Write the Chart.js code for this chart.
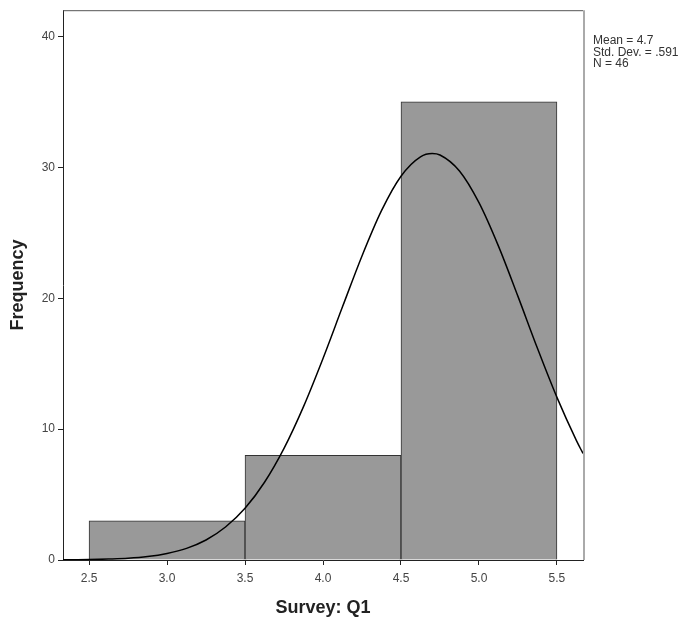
<!DOCTYPE html>
<html>
<head>
<meta charset="utf-8">
<script src="https://cdn.jsdelivr.net/npm/chart.js@4/dist/chart.umd.min.js"></script>
<style>
  html, body { margin: 0; padding: 0; background: #fff; }
  #wrap { width: 693px; height: 627px; }
</style>
</head>
<body>
<div id="wrap"><canvas id="chart"></canvas></div>
<script>
// histogram bins (Survey: Q1)
const binEdges = [2.5, 3.5, 4.5, 5.5];
const binCenters = [3.0, 4.0, 5.0];
const frequencies = [3, 8, 35];

// normal curve
const curveX = [2.333, 2.375, 2.5, 2.625, 2.75, 2.875, 3.0, 3.125, 3.25, 3.375, 3.5, 3.625, 3.75, 3.875,
  4.0, 4.125, 4.25, 4.375, 4.5, 4.625, 4.7, 4.75, 4.875, 5.0, 5.125, 5.25, 5.375, 5.5, 5.625, 5.667];
const curveY = [0.01, 0.01, 0.03, 0.07, 0.13, 0.26, 0.5, 0.89, 1.53, 2.52, 3.95, 5.94, 8.53, 11.72,
  15.4, 19.34, 23.23, 26.69, 29.32, 30.8, 31.05, 30.94, 29.72, 27.3, 23.98, 20.14, 16.17, 12.42, 9.12, 8.14];

// axes
const xTicks = [2.5, 3.0, 3.5, 4.0, 4.5, 5.0, 5.5];
const yTicks = [0, 10, 20, 30, 40];
const xRange = [2.333, 5.667];
const yRange = [0, 42];

const statsLines = ["Mean = 4.7", "Std. Dev. = .591", "N = 46"];

const FONT = "'Liberation Sans', Arial, sans-serif";

// top/right frame plus stats box
const framePlugin = {
  id: "frame",
  afterDraw(chart) {
    const { ctx, chartArea: a } = chart;
    ctx.save();
    ctx.strokeStyle = "#555";
    ctx.lineWidth = 1;
    ctx.beginPath();
    ctx.moveTo(a.left, a.top + 0.5);
    ctx.lineTo(a.right, a.top + 0.5);
    ctx.stroke();
    ctx.strokeStyle = "#aaa";
    ctx.lineWidth = 2;
    ctx.beginPath();
    ctx.moveTo(a.right + 1, a.top);
    ctx.lineTo(a.right + 1, a.bottom);
    ctx.stroke();

    ctx.fillStyle = "#333";
    ctx.font = "12px " + FONT;
    ctx.textBaseline = "middle";
    statsLines.forEach((t, i) => ctx.fillText(t, a.right + 10, 41 + i * 11.5));
    ctx.restore();
  },
};

new Chart(document.getElementById("chart"), {
  type: "bar",
  data: {
    datasets: [
      {
        type: "line",
        data: curveX.map((x, i) => ({ x, y: curveY[i] })),
        borderColor: "#000",
        borderWidth: 1.5,
        pointRadius: 0,
        cubicInterpolationMode: "monotone",
        order: 0,
      },
      {
        type: "bar",
        data: binCenters.map((x, i) => ({ x, y: frequencies[i] })),
        backgroundColor: "#999999",
        borderColor: "#333",
        borderWidth: 1,
        borderSkipped: "bottom",
        barPercentage: 1,
        categoryPercentage: 1,
        // one bin wide
        barThickness: (ctx) => {
          const s = ctx.chart.scales.x;
          return s.getPixelForValue(binEdges[1]) - s.getPixelForValue(binEdges[0]);
        },
        order: 1,
      },
    ],
  },
  options: {
    responsive: true,
    maintainAspectRatio: false,
    animation: false,
    layout: { padding: { top: 7, right: 110, left: 0, bottom: 0 } },
    plugins: {
      legend: { display: false },
      tooltip: { enabled: false },
    },
    scales: {
      x: {
        type: "linear",
        min: xRange[0],
        max: xRange[1],
        offset: false,
        afterBuildTicks: (s) => { s.ticks = xTicks.map((v) => ({ value: v })); },
        afterFit: (s) => { s.height = 67; },
        ticks: {
          color: "#444",
          font: { family: FONT, size: 12 },
          padding: 6,
          maxRotation: 0,
          callback: (v) => Number(v).toFixed(1),
        },
        grid: { display: true, offset: false, drawOnChartArea: false, drawTicks: true, tickLength: 5, color: "#222" },
        border: { display: true, color: "#222", width: 1 },
        title: {
          display: true,
          text: "Survey: Q1",
          color: "#222",
          font: { family: FONT, size: 18, weight: "bold" },
          padding: { top: 0, bottom: 8 },
        },
      },
      y: {
        min: yRange[0],
        max: yRange[1],
        afterBuildTicks: (s) => { s.ticks = yTicks.map((v) => ({ value: v })); },
        afterFit: (s) => { s.width = 63; },
        ticks: {
          color: "#444",
          font: { family: FONT, size: 12 },
          padding: 3,
        },
        grid: { display: true, drawOnChartArea: false, drawTicks: true, tickLength: 5, color: "#222" },
        border: { display: true, color: "#222", width: 1 },
        title: {
          display: true,
          text: "Frequency",
          color: "#222",
          font: { family: FONT, size: 18, weight: "bold" },
          padding: { top: 7, bottom: 0 },
        },
      },
    },
  },
  plugins: [framePlugin],
});
</script>
</body>
</html>
